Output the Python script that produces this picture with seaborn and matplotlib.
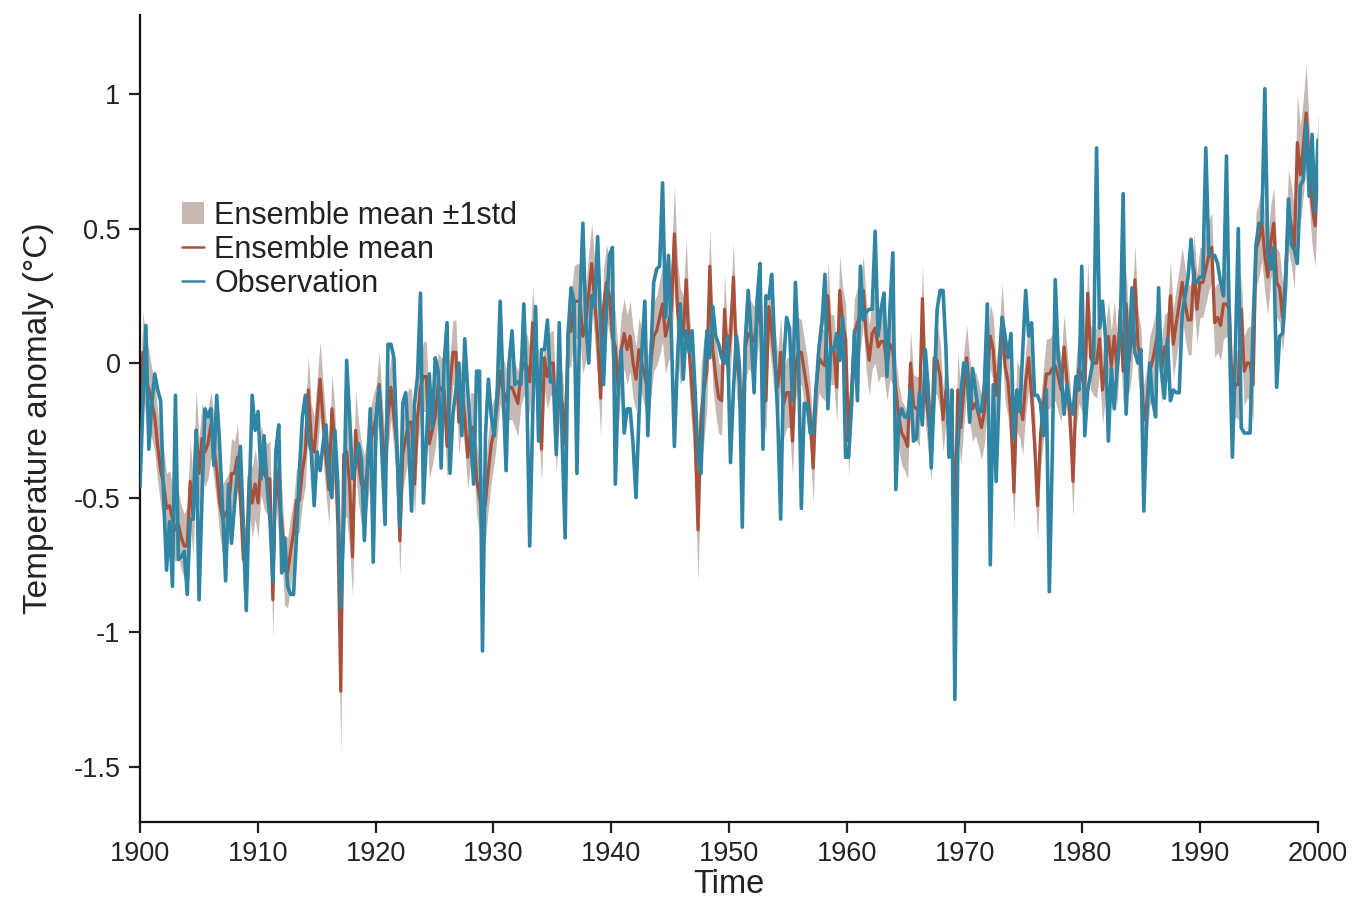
import numpy as np
import pandas as pd
import matplotlib
matplotlib.use("Agg")
import matplotlib.pyplot as plt
from matplotlib.lines import Line2D
from matplotlib.patches import Patch
import seaborn as sns

# ---------------- data (quarterly, 1900-1999) ----------------
observation = [
    -0.46, -0.15, 0.14, -0.32,   # 1900
    -0.15, -0.04, -0.10, -0.14,  # 1901
    -0.50, -0.77, -0.59, -0.83,  # 1902
    -0.12, -0.73, -0.72, -0.70,  # 1903
    -0.86, -0.58, -0.58, -0.25,  # 1904
    -0.88, -0.50, -0.17, -0.20,  # 1905
    -0.17, -0.38, -0.12, -0.31,  # 1906
    -0.55, -0.81, -0.45, -0.67,  # 1907
    -0.53, -0.40, -0.31, -0.60,  # 1908
    -0.92, -0.50, -0.12, -0.25,  # 1909
    -0.18, -0.43, -0.27, -0.45,  # 1910
    -0.58, -0.81, -0.33, -0.23,  # 1911
    -0.78, -0.65, -0.83, -0.86,  # 1912
    -0.86, -0.65, -0.40, -0.20,  # 1913
    -0.12, -0.28, -0.33, -0.53,  # 1914
    -0.33, -0.40, -0.30, -0.23,  # 1915
    -0.43, -0.50, -0.25, -0.45,  # 1916
    -0.91, -0.60, 0.01, -0.20,   # 1917
    -0.43, -0.38, -0.30, -0.36,  # 1918
    -0.66, -0.40, -0.17, -0.74,  # 1919
    -0.20, -0.09, -0.35, -0.60,  # 1920
    0.07, 0.07, 0.02, -0.30,     # 1921
    -0.61, -0.15, -0.11, -0.30,  # 1922
    -0.55, -0.15, -0.05, 0.26,   # 1923
    -0.52, -0.29, -0.04, -0.24,  # 1924
    0.02, -0.03, -0.39, 0.00,    # 1925
    0.15, -0.41, -0.19, -0.10,   # 1926
    0.00, -0.27, 0.09, -0.10,    # 1927
    -0.27, -0.45, -0.03, -0.03,  # 1928
    -1.07, -0.27, -0.06, -0.20,  # 1929
    -0.27, -0.10, 0.23, -0.10,   # 1930
    -0.40, 0.00, 0.12, -0.08,    # 1931
    -0.07, -0.08, 0.22, -0.10,   # 1932
    -0.68, -0.20, 0.21, -0.29,   # 1933
    0.05, 0.05, 0.16, -0.07,     # 1934
    -0.07, -0.34, 0.15, -0.29,   # 1935
    -0.65, 0.11, 0.28, 0.23,     # 1936
    -0.41, 0.21, 0.52, 0.15,     # 1937
    0.00, 0.25, 0.21, 0.47,      # 1938
    0.15, -0.08, 0.20, 0.40,     # 1939
    0.43, -0.45, -0.08, 0.05,    # 1940
    -0.26, -0.17, -0.17, -0.30,  # 1941
    -0.50, -0.20, 0.05, 0.23,    # 1942
    -0.27, 0.02, 0.30, 0.35,     # 1943
    0.36, 0.67, 0.17, 0.40,      # 1944
    0.10, -0.31, 0.00, 0.22,     # 1945
    -0.06, 0.12, 0.04, 0.12,     # 1946
    -0.10, -0.35, -0.41, -0.08,  # 1947
    0.12, 0.02, 0.21, 0.10,      # 1948
    0.07, 0.02, 0.00, 0.10,      # 1949
    -0.37, -0.10, 0.10, -0.01,   # 1950
    -0.61, 0.08, 0.27, 0.10,     # 1951
    -0.11, 0.23, 0.37, -0.32,    # 1952
    0.25, 0.24, 0.33, 0.05,      # 1953
    -0.20, -0.58, 0.00, 0.17,    # 1954
    0.13, -0.14, 0.30, 0.05,     # 1955
    -0.54, -0.15, -0.15, -0.26,  # 1956
    -0.26, -0.09, 0.06, 0.15,    # 1957
    0.33, -0.17, 0.06, 0.05,     # 1958
    0.11, 0.01, 0.17, -0.35,     # 1959
    -0.35, -0.16, 0.12, -0.14,   # 1960
    0.36, 0.16, 0.19, 0.20,      # 1961
    0.20, 0.49, 0.10, 0.20,      # 1962
    0.26, -0.05, 0.20, 0.41,     # 1963
    -0.47, -0.21, -0.17, -0.20,  # 1964
    -0.20, -0.10, -0.29, -0.28,  # 1965
    -0.11, -0.23, 0.05, -0.10,   # 1966
    -0.39, -0.12, 0.20, 0.27,    # 1967
    0.27, 0.05, -0.35, -0.10,    # 1968
    -1.25, -0.32, -0.12, 0.00,   # 1969
    0.00, -0.22, -0.02, -0.10,   # 1970
    -0.18, -0.18, -0.08, 0.22,   # 1971
    -0.75, -0.08, -0.44, -0.10,  # 1972
    0.17, 0.10, 0.02, 0.11,      # 1973
    -0.28, -0.10, -0.18, 0.05,   # 1974
    0.27, 0.10, 0.15, -0.12,     # 1975
    -0.12, -0.15, -0.27, -0.10,  # 1976
    -0.85, -0.34, 0.31, 0.02,    # 1977
    -0.04, -0.19, -0.08, -0.15,  # 1978
    -0.19, -0.05, -0.10, 0.36,   # 1979
    -0.27, -0.10, -0.04, 0.02,   # 1980
    0.80, 0.13, 0.23, 0.10,      # 1981
    -0.29, -0.02, -0.17, -0.01,  # 1982
    0.10, 0.63, -0.19, 0.05,     # 1983
    0.28, 0.04, 0.00, 0.05,      # 1984
    -0.55, -0.20, 0.00, -0.14,   # 1985
    -0.20, 0.28, -0.03, -0.13,   # 1986
    0.09, -0.14, -0.10, -0.11,   # 1987
    -0.11, 0.18, 0.25, 0.32,     # 1988
    0.46, 0.30, 0.30, 0.32,      # 1989
    0.32, 0.80, 0.41, 0.40,      # 1990
    0.40, 0.37, 0.30, 0.25,      # 1991
    0.77, 0.10, -0.35, 0.04,     # 1992
    0.50, -0.24, -0.26, -0.26,   # 1993
    -0.26, 0.14, 0.44, 0.52,     # 1994
    0.52, 1.02, 0.41, 0.35,      # 1995
    0.43, -0.09, 0.10, 0.11,     # 1996
    0.28, 0.61, 0.44, 0.42,      # 1997
    0.37, 0.66, 0.68, 0.89,      # 1998
    0.62, 0.85, 0.56, 0.83,      # 1999
]

ensemble_mean = [
    -0.23, 0.04, -0.06, -0.10,   # 1900
    -0.15, -0.20, -0.31, -0.40,  # 1901
    -0.45, -0.54, -0.53, -0.58,  # 1902
    -0.62, -0.60, -0.65, -0.68,  # 1903
    -0.68, -0.44, -0.57, -0.25,  # 1904
    -0.41, -0.28, -0.33, -0.30,  # 1905
    -0.23, -0.31, -0.40, -0.52,  # 1906
    -0.58, -0.56, -0.54, -0.41,  # 1907
    -0.41, -0.35, -0.50, -0.73,  # 1908
    -0.73, -0.42, -0.52, -0.45,  # 1909
    -0.52, -0.36, -0.41, -0.43,  # 1910
    -0.43, -0.88, -0.39, -0.50,  # 1911
    -0.59, -0.77, -0.78, -0.70,  # 1912
    -0.63, -0.51, -0.51, -0.40,  # 1913
    -0.33, -0.10, -0.28, -0.33,  # 1914
    -0.20, -0.06, -0.21, -0.35,  # 1915
    -0.47, -0.17, -0.30, -0.60,  # 1916
    -1.22, -0.34, -0.33, -0.45,  # 1917
    -0.72, -0.25, -0.37, -0.45,  # 1918
    -0.47, -0.40, -0.30, -0.25,  # 1919
    -0.20, -0.08, -0.25, -0.40,  # 1920
    -0.20, -0.09, -0.20, -0.31,  # 1921
    -0.66, -0.34, -0.28, -0.22,  # 1922
    -0.22, -0.45, -0.20, -0.09,  # 1923
    -0.05, -0.05, -0.30, -0.25,  # 1924
    -0.20, -0.08, -0.10, -0.10,  # 1925
    -0.31, -0.09, 0.04, 0.04,    # 1926
    -0.22, -0.10, -0.20, -0.35,  # 1927
    -0.24, -0.24, -0.43, -0.50,  # 1928
    -0.57, -0.52, -0.40, -0.30,  # 1929
    -0.25, -0.15, -0.03, -0.10,  # 1930
    -0.14, -0.09, -0.09, -0.12,  # 1931
    -0.15, -0.04, 0.00, -0.01,   # 1932
    -0.07, 0.15, 0.02, -0.10,    # 1933
    -0.32, 0.02, -0.05, 0.00,    # 1934
    0.00, -0.29, -0.10, -0.15,   # 1935
    -0.30, 0.11, 0.12, 0.23,     # 1936
    0.23, 0.23, 0.10, 0.15,      # 1937
    0.26, 0.37, 0.23, 0.10,      # 1938
    -0.13, 0.21, 0.30, 0.25,     # 1939
    0.10, 0.06, -0.10, 0.05,     # 1940
    0.11, 0.05, 0.10, 0.00,      # 1941
    -0.06, 0.05, 0.00, -0.05,    # 1942
    -0.10, 0.00, 0.10, 0.12,     # 1943
    0.17, 0.22, 0.10, 0.15,      # 1944
    0.20, 0.48, 0.21, 0.10,      # 1945
    0.10, 0.31, 0.05, -0.10,     # 1946
    -0.26, -0.62, -0.20, -0.10,  # 1947
    -0.03, 0.36, 0.05, -0.05,    # 1948
    -0.13, -0.14, 0.20, -0.01,   # 1949
    0.10, 0.32, 0.01, -0.06,     # 1950
    -0.24, 0.06, 0.11, 0.10,     # 1951
    0.08, 0.15, 0.26, -0.05,     # 1952
    -0.14, 0.21, 0.11, 0.00,     # 1953
    -0.09, 0.04, -0.15, -0.11,   # 1954
    -0.11, -0.29, -0.01, 0.04,   # 1955
    0.04, -0.03, -0.10, -0.20,   # 1956
    -0.39, -0.10, 0.02, 0.00,    # 1957
    -0.01, 0.25, 0.05, 0.05,     # 1958
    -0.09, 0.27, 0.15, 0.09,     # 1959
    -0.29, -0.10, 0.11, 0.15,    # 1960
    0.18, 0.27, 0.10, 0.01,      # 1961
    0.11, 0.13, 0.06, 0.08,      # 1962
    0.08, -0.01, 0.07, 0.05,     # 1963
    -0.10, -0.20, -0.26, -0.28,  # 1964
    -0.31, 0.00, -0.16, -0.17,   # 1965
    -0.18, 0.24, -0.10, -0.20,   # 1966
    -0.31, 0.02, 0.01, -0.05,    # 1967
    -0.21, -0.10, -0.21, -0.25,  # 1968
    -0.58, -0.10, -0.24, -0.10,  # 1969
    0.02, -0.10, -0.17, -0.15,   # 1970
    -0.19, -0.24, -0.18, -0.05,  # 1971
    0.10, 0.05, -0.12, 0.00,     # 1972
    0.17, -0.01, -0.07, -0.20,   # 1973
    -0.48, -0.12, -0.15, -0.21,  # 1974
    -0.07, 0.02, -0.12, -0.30,   # 1975
    -0.53, -0.27, -0.15, -0.04,  # 1976
    -0.04, -0.02, -0.01, -0.05,  # 1977
    -0.10, 0.06, -0.07, -0.20,   # 1978
    -0.44, -0.12, -0.02, -0.05,  # 1979
    -0.10, 0.26, 0.02, 0.00,     # 1980
    0.00, 0.09, -0.10, 0.00,     # 1981
    0.10, -0.01, 0.10, -0.03,    # 1982
    0.20, -0.03, 0.22, 0.01,     # 1983
    0.10, 0.31, 0.07, 0.00,      # 1984
    -0.21, -0.15, -0.03, 0.01,   # 1985
    0.07, 0.12, -0.03, 0.06,     # 1986
    0.06, 0.25, 0.07, 0.15,      # 1987
    0.22, 0.30, 0.22, 0.16,      # 1988
    0.16, 0.35, 0.20, 0.30,      # 1989
    0.30, 0.35, 0.40, 0.43,      # 1990
    0.15, 0.17, 0.14, 0.22,      # 1991
    0.22, 0.20, -0.14, -0.08,    # 1992
    -0.08, 0.20, -0.03, 0.00,    # 1993
    0.00, -0.08, 0.42, 0.46,     # 1994
    0.52, 0.40, 0.32, 0.45,      # 1995
    0.52, 0.30, 0.28, 0.17,      # 1996
    0.32, 0.57, 0.51, 0.43,      # 1997
    0.82, 0.70, 0.80, 0.93,      # 1998
    0.74, 0.59, 0.51, 0.78,      # 1999
]

# ensemble spread (1 std), one value per year
ensemble_std_yearly = [
    0.15, 0.13, 0.13, 0.12, 0.15, 0.13, 0.12, 0.13, 0.12, 0.13,
    0.13, 0.14, 0.13, 0.12, 0.13, 0.14, 0.13, 0.24, 0.15, 0.13,
    0.12, 0.12, 0.13, 0.12, 0.13, 0.12, 0.12, 0.12, 0.13, 0.14,
    0.12, 0.12, 0.12, 0.13, 0.12, 0.12, 0.13, 0.14, 0.15, 0.14,
    0.13, 0.13, 0.12, 0.13, 0.14, 0.18, 0.15, 0.19, 0.14, 0.13,
    0.13, 0.13, 0.13, 0.13, 0.13, 0.13, 0.12, 0.13, 0.13, 0.13,
    0.13, 0.13, 0.13, 0.13, 0.12, 0.12, 0.13, 0.13, 0.12, 0.14,
    0.12, 0.12, 0.12, 0.13, 0.13, 0.12, 0.13, 0.13, 0.12, 0.13,
    0.12, 0.13, 0.13, 0.13, 0.13, 0.13, 0.12, 0.13, 0.13, 0.13,
    0.13, 0.13, 0.12, 0.13, 0.14, 0.14, 0.13, 0.15, 0.18, 0.15,
]

x_ticks = [1900, 1910, 1920, 1930, 1940, 1950, 1960, 1970, 1980, 1990, 2000]
y_ticks = [-1.5, -1, -0.5, 0, 0.5, 1]
y_tick_labels = ["-1.5", "-1", "-0.5", "0", "0.5", "1"]

# ---------------- build table ----------------
n = len(observation)
time = np.linspace(1900, 2000, n)
std = np.repeat(ensemble_std_yearly, 4)[:n]
df = pd.DataFrame({
    "Time": time,
    "Observation": observation,
    "Ensemble mean": ensemble_mean,
    "std": std,
})

# ---------------- style ----------------
sns.set_theme(style="ticks")
plt.rcParams["font.family"] = ["Liberation Sans", "DejaVu Sans"]
plt.rcParams["axes.unicode_minus"] = False

c_obs = "#2f85a3"
c_mean = "#a8503a"
c_band = "#c6b8b2"
c_text = "#222222"

fig = plt.figure(figsize=(13.54, 9.0), dpi=100)
ax = fig.add_axes([140 / 1354, 1 - 822 / 900, 1178 / 1354, 807 / 900])

ax.fill_between(df["Time"], df["Ensemble mean"] - df["std"],
                df["Ensemble mean"] + df["std"], color=c_band, lw=0, zorder=1)
sns.lineplot(data=df, x="Time", y="Ensemble mean", color=c_mean, lw=2.3,
             ax=ax, zorder=2)
sns.lineplot(data=df, x="Time", y="Observation", color=c_obs, lw=2.6,
             ax=ax, zorder=3)

ax.set_xlim(1900, 2000)
ax.set_ylim(-1.706, 1.294)
ax.set_xticks(x_ticks)
ax.set_xticklabels([str(v) for v in x_ticks])
ax.set_yticks(y_ticks)
ax.set_yticklabels(y_tick_labels)

ax.set_xlabel("Time", fontsize=23.5, color=c_text, labelpad=1)
ax.set_ylabel("Temperature anomaly (°C)", fontsize=24, color=c_text, labelpad=14)
ax.tick_params(axis="both", labelsize=19.5, colors=c_text, direction="out",
               length=8, width=1.6, pad=6)

sns.despine(ax=ax)
for side in ("left", "bottom"):
    ax.spines[side].set_linewidth(1.6)
    ax.spines[side].set_color("#111111")

handles = [
    Patch(facecolor=c_band, edgecolor="none", label="Ensemble mean ±1std"),
    Line2D([0], [0], color=c_mean, lw=1.8, label="Ensemble mean"),
    Line2D([0], [0], color=c_obs, lw=1.8, label="Observation"),
]
leg = ax.legend(handles=handles, loc="upper left", bbox_to_anchor=(0.0357, 0.770),
                frameon=False, fontsize=22, handlelength=0.72, handleheight=0.72,
                handletextpad=0.33, labelspacing=0.14, borderpad=0, borderaxespad=0)
for t in leg.get_texts():
    t.set_color(c_text)

fig.savefig("out.png", dpi=100)
